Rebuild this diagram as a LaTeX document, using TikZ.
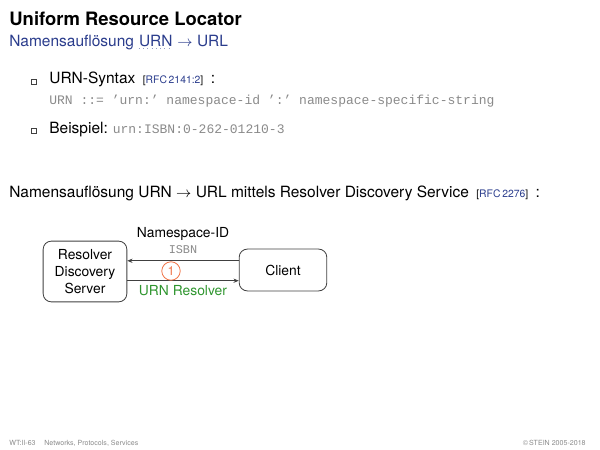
\documentclass[tikz,border=0pt]{standalone}
\usepackage{fontspec}
\setmainfont{TeX Gyre Heros}
\setsansfont{TeX Gyre Heros}
\setmonofont{Liberation Mono}
\usetikzlibrary{arrows.meta,positioning}
\definecolor{slideblue}{HTML}{2A3C8C}
\definecolor{slidegray}{HTML}{8A8A8A}
\definecolor{slidegreen}{HTML}{2E952E}
\definecolor{slideorange}{HTML}{F07448}
\newcommand{\rfcref}[1]{{\fontsize{6.3}{7}\selectfont[\textcolor{slideblue}{#1}]}}

\begin{document}
\begin{tikzpicture}[
  x=0.21333mm, y=-0.21333mm,
  every node/.style={inner sep=0pt},
  txt/.style={anchor=base west, font=\fontsize{9.4}{11}\selectfont},
  code/.style={anchor=base west, text=slidegray, font=\ttfamily\fontsize{7.9}{9}\selectfont},
  bulletbox/.style={draw=black!75, fill=white, minimum size=3.2pt, line width=0.4pt},
  box/.style={draw=black!75, rounded corners=5pt, line width=0.5pt, align=center,
              font=\fontsize{8.4}{10.2}\selectfont},
  msg/.style={-{Stealth[length=3.2pt,width=2.6pt]}, draw=black!75, line width=0.5pt},
  footer/.style={anchor=base west, text=slidegray, font=\fontsize{4.3}{5}\selectfont}
]
\useasboundingbox (0,0) rectangle (600,450);

% title
\node[anchor=base west, font=\bfseries\fontsize{11.2}{13}\selectfont] (title) at (9,25) {Uniform Resource Locator};
\node[txt, text=slideblue] (subA) at (9,46) {Namensauflösung};
\node[txt, text=slideblue, right=2.6pt of subA.base east, anchor=base west] (subURN) {URN};
\node[txt, text=slideblue, right=2.6pt of subURN.base east, anchor=base west] (subB) {$\rightarrow$ URL};
\draw[slideblue!50, dotted, line width=0.6pt] ([yshift=-1.8pt]subURN.base west) -- ([yshift=-1.8pt]subURN.base east);

% bullets
\node[bulletbox] (bulA) at (34,82) {};
\node[txt] (syntax) at (49,84) {URN-Syntax\hspace{4.5pt}\rfcref{RFC\,2141:2}\hspace{4.5pt}:};
\node[code] (grammar) at (49,104) {URN ::= ’urn:’ namespace-id ’:’ namespace-specific-string};
\node[bulletbox] (bulB) at (34,131) {};
\node[txt] (example) at (49,134) {Beispiel:\hspace{3pt}{\ttfamily\color{slidegray}\fontsize{7.9}{9}\selectfont urn:ISBN:0-262-01210-3}};

\node[txt] (intro) at (9,197) {Namensauflösung URN $\rightarrow$ URL mittels Resolver Discovery Service\hspace{4.5pt}\rfcref{RFC\,2276}\hspace{4.5pt}:};

% resolver discovery
\node[box, minimum width=50.8pt, minimum height=36.9pt] (server) at (85,271.5) {Resolver\\Discovery\\Server};
\node[box, minimum width=53.2pt, minimum height=25.4pt] (client) at (283,270) {Client};

\draw[msg] ([yshift=5.6pt]client.west) -- ([yshift=5.6pt]client.west -| server.east);
\draw[msg] ([yshift=-6.5pt]client.west -| server.east) -- ([yshift=-6.5pt]client.west);

\node[anchor=base, font=\fontsize{8.4}{10}\selectfont] (nsid) at (183,237) {Namespace-ID};
\node[anchor=base, text=slidegray, font=\ttfamily\fontsize{7.2}{8}\selectfont] (isbn) at (183,253) {ISBN};
\node[circle, draw=slideorange, text=slideorange, line width=0.5pt, minimum size=11.2pt,
      font=\fontsize{7.6}{8}\selectfont] (step1) at (171,271) {1};
\node[anchor=base, text=slidegreen, font=\fontsize{8.4}{10}\selectfont] (urnres) at (183,295) {URN Resolver};

% footer
\node[footer] (slideno) at (9,445) {WT:II-63};
\node[footer] (course) at (44,445) {Networks, Protocols, Services};
\node[footer, anchor=base east] (copy) at (586,445) {\textcopyright\,STEIN 2005-2018};
\end{tikzpicture}
\end{document}
